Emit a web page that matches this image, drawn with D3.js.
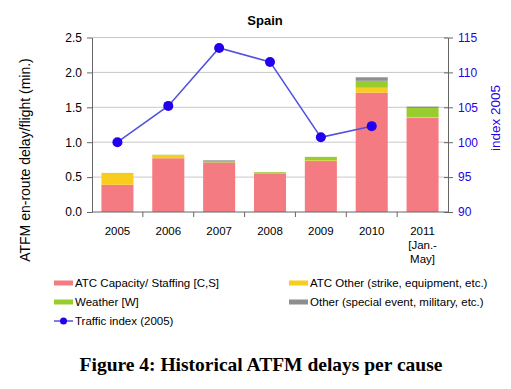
<!DOCTYPE html>
<meta charset="utf-8">
<style>
body { margin: 0; background: #fff; }
svg { font-family: 'Liberation Sans', Arial, sans-serif; }
.grid line { stroke: #c8c8c8; stroke-width: 1px; }
.axis path, .axis line { stroke: #666; }
.axis text { font-size: 11.5px; fill: #000; }
.axis.right text { fill: #2a00e6; font-size: 12px; }
.legend text { font-size: 11.5px; }
</style>
<body>
<script src="https://cdn.jsdelivr.net/npm/d3@7"></script>
<script>

var years = ["2005", "2006", "2007", "2008", "2009", "2010", "2011"];
var capacity = [0.39, 0.77, 0.71, 0.55, 0.73, 1.71, 1.35];
var atcOther = [0.16, 0.04, 0.00, 0.00, 0.01, 0.07, 0.01];
var weather  = [0.01, 0.01, 0.02, 0.02, 0.05, 0.10, 0.13];
var other    = [0.00, 0.00, 0.01, 0.00, 0.00, 0.05, 0.02];
var traffic  = [100.0, 105.2, 113.5, 111.5, 100.7, 102.3, null];
var leftTicks = [0, 0.5, 1.0, 1.5, 2.0, 2.5];
var rightTicks = [90, 95, 100, 105, 110, 115];

var seriesKeys = ["capacity", "atcOther", "weather", "other"];
var seriesNames = ["ATC Capacity/ Staffing [C,S]", "ATC Other (strike, equipment, etc.)", "Weather [W]", "Other (special event, military, etc.)"];
var colors = ["#f47b81", "#f8cd1e", "#99cc2e", "#8e8e8e"];

var plotL = 92, plotR = 448, plotT = 37.5, plotB = 212;

var svg = d3.select("body").append("svg")
    .attr("width", 511).attr("height", 389);

var x = d3.scaleBand().domain(years).range([plotL, plotR]).paddingInner(0.37).paddingOuter(0.185);
var xb = d3.scaleBand().domain(years).range([plotL, plotR]);
var y = d3.scaleLinear().domain([0, 2.5]).range([plotB, plotT]);
var y2 = d3.scaleLinear().domain([90, 115]).range([plotB, plotT]);

// gridlines
svg.append("g").attr("class", "grid")
  .selectAll("line").data(leftTicks.slice(1))
  .enter().append("line")
    .attr("x1", plotL).attr("x2", plotR)
    .attr("y1", function(d) { return y(d); })
    .attr("y2", function(d) { return y(d); });

// stacked bars
var rows = years.map(function(yr, i) {
    return { year: yr, capacity: capacity[i], atcOther: atcOther[i], weather: weather[i], other: other[i] };
});
var stack = d3.stack().keys(seriesKeys)(rows);

svg.append("g").selectAll("g").data(stack)
  .enter().append("g")
    .attr("fill", function(d, i) { return colors[i]; })
  .selectAll("rect").data(function(d) { return d; })
  .enter().append("rect")
    .attr("x", function(d) { return x(d.data.year); })
    .attr("width", x.bandwidth())
    .attr("y", function(d) { return y(d[1]); })
    .attr("height", function(d) { return y(d[0]) - y(d[1]); });

// axes
svg.append("g").attr("class", "axis")
    .attr("transform", "translate(" + plotL + ",0)")
    .call(d3.axisLeft(y).tickValues(leftTicks).tickFormat(d3.format(".1f")).tickSize(5).tickSizeOuter(0))
    .selectAll("text").attr("dx", "-2").style("font-size", "12px");

svg.append("g").attr("class", "axis right")
    .attr("transform", "translate(" + plotR + ",0)")
    .call(d3.axisRight(y2).tickValues(rightTicks).tickSize(5).tickSizeOuter(0))
    .call(function(g) { g.selectAll(".tick line").attr("x1", -4); })
    .selectAll("text").attr("dx", "2");

var xAxis = svg.append("g").attr("class", "axis")
    .attr("transform", "translate(0," + plotB + ")");
xAxis.append("line").attr("x1", plotL).attr("x2", plotR).attr("stroke", "#666");
xAxis.selectAll(".bt").data(years.slice(1))
  .enter().append("line")
    .attr("x1", function(d) { return xb(d); })
    .attr("x2", function(d) { return xb(d); })
    .attr("y1", 0).attr("y2", 5).attr("stroke", "#666");
var xl = xAxis.selectAll("text.yl").data(years)
  .enter().append("text")
    .attr("text-anchor", "middle")
    .attr("x", function(d) { return xb(d) + xb.bandwidth() / 2; })
    .attr("y", 23);
xl.append("tspan").text(function(d) { return d; });
xl.filter(function(d) { return d === "2011"; }).each(function() {
    var t = d3.select(this);
    t.append("tspan").attr("x", t.attr("x")).attr("dy", 14).text("[Jan.-");
    t.append("tspan").attr("x", t.attr("x")).attr("dy", 14).text("May]");
});

// traffic line
var pts = years.map(function(yr, i) { return [yr, traffic[i]]; }).filter(function(d) { return d[1] != null; });
svg.append("path")
    .datum(pts)
    .attr("fill", "none").attr("stroke", "#5050e0").attr("stroke-width", 1.5)
    .attr("d", d3.line()
        .x(function(d) { return xb(d[0]) + xb.bandwidth() / 2; })
        .y(function(d) { return y2(d[1]); }));
svg.append("g").selectAll("circle").data(pts)
  .enter().append("circle")
    .attr("cx", function(d) { return xb(d[0]) + xb.bandwidth() / 2; })
    .attr("cy", function(d) { return y2(d[1]); })
    .attr("r", 5).attr("fill", "#2200ee");

// titles
svg.append("text").attr("x", 265).attr("y", 25).attr("text-anchor", "middle")
    .style("font-weight", "bold").style("font-size", "13px").text("Spain");
svg.append("text").attr("transform", "translate(30,160) rotate(-90)")
    .attr("text-anchor", "middle").style("font-size", "14px")
    .text("ATFM en-route delay/flight (min.)");
svg.append("text").attr("transform", "translate(500,118) rotate(-90)")
    .attr("text-anchor", "middle").style("font-size", "13.5px").attr("fill", "#2a00e6")
    .text("index 2005");

// legend
var legendItems = [
    { name: seriesNames[0], color: colors[0], x: 54, y: 283 },
    { name: seriesNames[1], color: colors[1], x: 289, y: 283 },
    { name: seriesNames[2], color: colors[2], x: 54, y: 302 },
    { name: seriesNames[3], color: colors[3], x: 289, y: 302 }
];
var lg = svg.append("g").attr("class", "legend");
var li = lg.selectAll("g").data(legendItems).enter().append("g")
    .attr("transform", function(d) { return "translate(" + d.x + "," + d.y + ")"; });
li.append("rect").attr("x", 0).attr("y", -2.5).attr("width", 19).attr("height", 5)
    .attr("fill", function(d) { return d.color; });
li.append("text").attr("x", 21).attr("y", 4).text(function(d) { return d.name; });

var lt = lg.append("g").attr("transform", "translate(54,321)");
lt.append("line").attr("x1", 0).attr("x2", 19).attr("stroke", "#5050e0").attr("stroke-width", 1.5);
lt.append("circle").attr("cx", 9.5).attr("r", 3.5).attr("fill", "#2200ee");
lt.append("text").attr("x", 21).attr("y", 4).text("Traffic index (2005)");

// caption
svg.append("text").attr("x", 261).attr("y", 371).attr("text-anchor", "middle")
    .style("font-family", "'Liberation Serif', 'Times New Roman', serif")
    .style("font-weight", "bold").style("font-size", "19.5px")
    .text("Figure 4: Historical ATFM delays per cause");

</script>
</body>
